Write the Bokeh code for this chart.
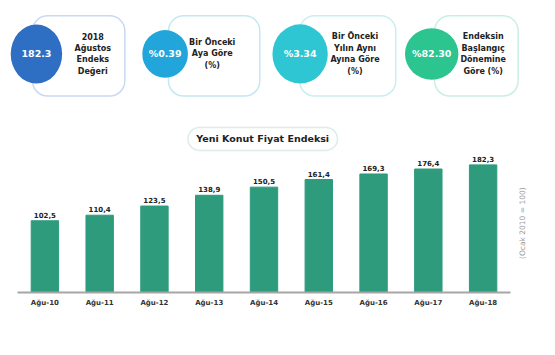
from bokeh.plotting import figure
from bokeh.models import Range1d, FactorRange, BoxAnnotation, ColumnDataSource
from bokeh.layouts import column, row
from bokeh.core.properties import value
from bokeh.embed import file_html
from bokeh.resources import INLINE

# ---------------- data ----------------
categories = ["Ağu-10", "Ağu-11", "Ağu-12", "Ağu-13", "Ağu-14",
              "Ağu-15", "Ağu-16", "Ağu-17", "Ağu-18"]
index_values = [102.5, 110.4, 123.5, 138.9, 150.5, 161.4, 169.3, 176.4, 182.3]
chart_title = "Yeni Konut Fiyat Endeksi"
base_note = "(Ocak 2010 = 100)"

card_values = ["182.3", "%0.39", "%3.34", "%82.30"]
card_labels = [
    ["2018", "Ağustos", "Endeks", "Değeri"],
    ["Bir Önceki", "Aya Göre", "(%)"],
    ["Bir Önceki", "Yılın Aynı", "Ayına Göre", "(%)"],
    ["Endeksin", "Başlangıç", "Dönemine", "Göre (%)"],
]

# ---------------- styles / layout ----------------
FONT = "DejaVu Sans"
circle_colors = ["#2F6FC3", "#21A5DB", "#2EC6D3", "#2CC48F"]
border_colors = ["#4A82CC", "#3AAEDC", "#4CC8D0", "#4CC79E"]
bar_color = "#2E9B7C"

W, H = 539, 339            # drawn size
RW, RH = 555.0, 355.0      # layout reference space
SX, SY = W / RW, H / RH
TOP_H = 152
BOT_H = H - TOP_H
BAR_W = 512

card_left = [33, 173, 308, 447]
card_right = [128, 267, 407, 533]
card_top, card_bottom = 16, 100
circle_x = [37, 169.5, 308.5, 444]
circle_w = [53, 47, 57, 55]
circle_h = [62, 50, 62, 54]
circle_y = 56
text_cx = [95, 218, 365, 497]
line_gap = 12

# ---------------- top: info cards + chart title ----------------
top = figure(width=W, height=TOP_H, x_range=Range1d(0, RW), y_range=Range1d(TOP_H / SY, 0),
             output_backend="svg", toolbar_location=None,
             x_axis_location=None, y_axis_location=None, min_border=0)
top.grid.visible = False
top.outline_line_color = None
top.background_fill_color = "white"
top.border_fill_color = "white"

for i in range(len(card_values)):
    top.add_layout(BoxAnnotation(left=card_left[i], right=card_right[i],
                                 top=card_top, bottom=card_bottom,
                                 border_radius=15, fill_color="white", fill_alpha=1.0,
                                 line_color=border_colors[i], line_width=1.5,
                                 level="underlay"))

top.ellipse(x=circle_x, y=[circle_y] * 4, width=circle_w, height=circle_h,
            fill_color=circle_colors, line_color=None)
top.text(x=circle_x, y=[circle_y] * 4, text=card_values,
         text_align="center", text_baseline="middle",
         text_font=value(FONT), text_font_style="bold", text_font_size="9.5px",
         text_color="white")

lx, ly, lt = [], [], []
for i, lines in enumerate(card_labels):
    n = len(lines)
    for j, t in enumerate(lines):
        lx.append(text_cx[i])
        ly.append(circle_y + (j - (n - 1) / 2) * line_gap)
        lt.append(t)
top.text(x=lx, y=ly, text=lt, text_align="center", text_baseline="middle",
         text_font=value(FONT), text_font_style="bold", text_font_size="8px",
         text_color="#222222")

top.add_layout(BoxAnnotation(left=193, right=347, top=133, bottom=157,
                             border_radius=12, fill_color="white", fill_alpha=1.0,
                             line_color="#8CC4B4", line_width=1.5, level="underlay"))
top.text(x=[270], y=[145], text=[chart_title], text_align="center", text_baseline="middle",
         text_font=value(FONT), text_font_style="bold", text_font_size="9.5px",
         text_color="#222222")

# ---------------- bottom: bar chart ----------------
src = ColumnDataSource(dict(
    cat=categories,
    val=index_values,
    lbl=[f"{v:.1f}".replace(".", ",") for v in index_values],
))

frame_bottom = round(306 * SY) - TOP_H          # axis line position inside the bar figure
bot = figure(width=BAR_W, height=BOT_H, x_range=FactorRange(*categories),
             y_range=Range1d(0, 200), output_backend="svg", toolbar_location=None,
             y_axis_location=None, min_border_left=17, min_border_right=BAR_W - 510,
             min_border_top=0, min_border_bottom=BOT_H - frame_bottom)
bot.grid.visible = False
bot.outline_line_color = None
bot.background_fill_color = "white"
bot.border_fill_color = "white"

bot.vbar(x="cat", top="val", width=0.5, source=src,
         fill_color=bar_color, line_color=bar_color)
bot.text(x="cat", y="val", text="lbl", source=src,
         text_align="center", text_baseline="bottom", y_offset=-3,
         text_font=value(FONT), text_font_style="bold", text_font_size="7px",
         text_color="#222222")

ax = bot.xaxis[0]
ax.axis_line_color = "#A6A6A6"
ax.axis_line_width = 2
ax.major_tick_line_color = None
ax.minor_tick_line_color = None
ax.major_tick_out = 0
ax.major_tick_in = 0
ax.major_label_text_font = FONT
ax.major_label_text_font_style = "bold"
ax.major_label_text_font_size = "7px"
ax.major_label_text_color = "#333333"
ax.major_label_standoff = 6

# ---------------- right: base-period note ----------------
note = figure(width=W - BAR_W, height=BOT_H, x_range=Range1d(BAR_W / SX, RW),
              y_range=Range1d(RH, TOP_H / SY), output_backend="svg", toolbar_location=None,
              x_axis_location=None, y_axis_location=None, min_border=0)
note.grid.visible = False
note.outline_line_color = None
note.background_fill_color = "white"
note.border_fill_color = "white"
note.text(x=[538], y=[258], text=[base_note], angle=1.5708,
          text_align="center", text_baseline="middle",
          text_font=value(FONT), text_font_size="7.5px", text_color="#999999")

layout = column(top, row(bot, note, spacing=0), spacing=0)
open("out.html", "w").write(file_html(layout, INLINE))
